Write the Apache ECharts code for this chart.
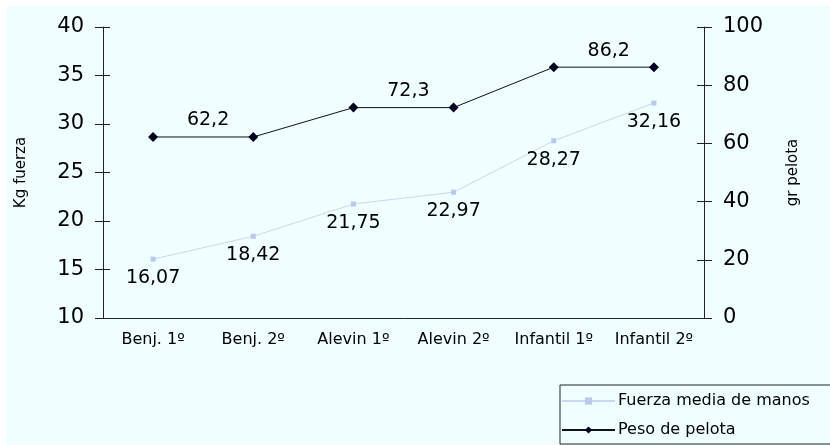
<!DOCTYPE html>
<html>
<head>
<meta charset="utf-8">
<script src="https://cdn.jsdelivr.net/npm/echarts@6/dist/echarts.min.js"></script>
<style>
    html, body { margin: 0; padding: 0; background: #ffffff; }
    #main { position: absolute; left: 6px; top: 7px; width: 824px; height: 438px; }
</style>
</head>
<body>
<div id="main"></div>
<script>
// categorias y valores
var categorias = ['Benj. 1º', 'Benj. 2º', 'Alevin 1º', 'Alevin 2º', 'Infantil 1º', 'Infantil 2º'];
var fuerzaMedia = [16.07, 18.42, 21.75, 22.97, 28.27, 32.16];
var pesoPelota = [62.2, 62.2, 72.3, 72.3, 86.2, 86.2];
var pesoConEtiqueta = [0, 2, 4];
var ticksKg = [10, 40, 5];
var ticksGr = [0, 100, 20];

var fuente = 'DejaVu Sans';
var coma = function (p) { return String(p.value).replace('.', ','); };

var chart = echarts.init(document.getElementById('main'));

var option = {
    backgroundColor: '#f0ffff',
    textStyle: { fontFamily: fuente, color: '#000' },
    animation: false,
    grid: { left: 94, right: 126, top: 20, bottom: 127 },
    legend: {
        orient: 'vertical',
        left: 554,
        top: 378,
        padding: [8, 90, 6, 1],
        itemGap: 13,
        itemWidth: 53,
        itemHeight: 9,
        borderColor: '#222',
        borderWidth: 1,
        borderRadius: 0,
        textStyle: { fontFamily: fuente, fontSize: 16, color: '#000', padding: [0, 0, 0, -2] },
        data: ['Fuerza media de manos', 'Peso de pelota']
    },
    xAxis: [
        {
            type: 'category',
            data: categorias,
            boundaryGap: true,
            axisLine: { lineStyle: { color: '#222', width: 1 } },
            axisTick: { length: 6, lineStyle: { color: '#222' } },
            axisLabel: { fontFamily: fuente, fontSize: 16, color: '#000', margin: 14, interval: 0 },
            splitLine: { show: false }
        },
        {
            type: 'category',
            data: categorias,
            position: 'bottom',
            boundaryGap: true,
            axisLine: { show: false },
            axisTick: { inside: true, length: 6, lineStyle: { color: '#222' } },
            axisLabel: { show: false },
            splitLine: { show: false }
        }
    ],
    yAxis: [
        {
            type: 'value',
            min: ticksKg[0], max: ticksKg[1], interval: ticksKg[2],
            position: 'left',
            name: 'Kg fuerza',
            nameLocation: 'middle',
            nameRotate: 90,
            nameGap: 74,
            nameTextStyle: { fontFamily: fuente, fontSize: 15, color: '#000' },
            axisLine: { show: true, lineStyle: { color: '#222' } },
            axisTick: { show: true, length: 8, lineStyle: { color: '#222' } },
            axisLabel: { fontFamily: fuente, fontSize: 21, color: '#000', margin: 19 },
            splitLine: { show: false }
        },
        {
            type: 'value',
            min: ticksGr[0], max: ticksGr[1], interval: ticksGr[2],
            position: 'right',
            name: 'gr pelota',
            nameLocation: 'middle',
            nameRotate: 90,
            nameGap: 82,
            nameTextStyle: { fontFamily: fuente, fontSize: 15, color: '#000' },
            axisLine: { show: true, lineStyle: { color: '#222' } },
            axisTick: { show: true, length: 8, lineStyle: { color: '#222' } },
            axisLabel: { fontFamily: fuente, fontSize: 21, color: '#000', margin: 19 },
            splitLine: { show: false }
        },
        {
            type: 'value',
            min: ticksKg[0], max: ticksKg[1], interval: ticksKg[2],
            position: 'left',
            axisLine: { show: false },
            axisTick: { show: true, inside: true, length: 7, lineStyle: { color: '#222' } },
            axisLabel: { show: false },
            splitLine: { show: false }
        },
        {
            type: 'value',
            min: ticksGr[0], max: ticksGr[1], interval: ticksGr[2],
            position: 'right',
            axisLine: { show: false },
            axisTick: { show: true, inside: true, length: 7, lineStyle: { color: '#222' } },
            axisLabel: { show: false },
            splitLine: { show: false }
        }
    ],
    series: [
        {
            name: 'Fuerza media de manos',
            type: 'line',
            yAxisIndex: 0,
            data: fuerzaMedia,
            symbol: 'rect',
            symbolSize: 5,
            lineStyle: { color: '#c9d8f2', width: 1 },
            itemStyle: { color: '#b9c9ee' },
            label: {
                show: true,
                position: 'bottom',
                distance: 7,
                fontFamily: fuente,
                fontSize: 19,
                color: '#000',
                formatter: coma
            }
        },
        {
            name: 'Peso de pelota',
            type: 'line',
            yAxisIndex: 1,
            data: pesoPelota.map(function (v, i) {
                return { value: v, label: { show: pesoConEtiqueta.indexOf(i) >= 0 } };
            }),
            symbol: 'diamond',
            symbolSize: 10,
            lineStyle: { color: '#111', width: 1 },
            itemStyle: { color: '#00001e' },
            label: {
                position: 'top',
                offset: [55, 2],
                distance: 4,
                fontFamily: fuente,
                fontSize: 19,
                color: '#000',
                formatter: coma
            }
        }
    ]
};

chart.setOption(option);
</script>
</body>
</html>
